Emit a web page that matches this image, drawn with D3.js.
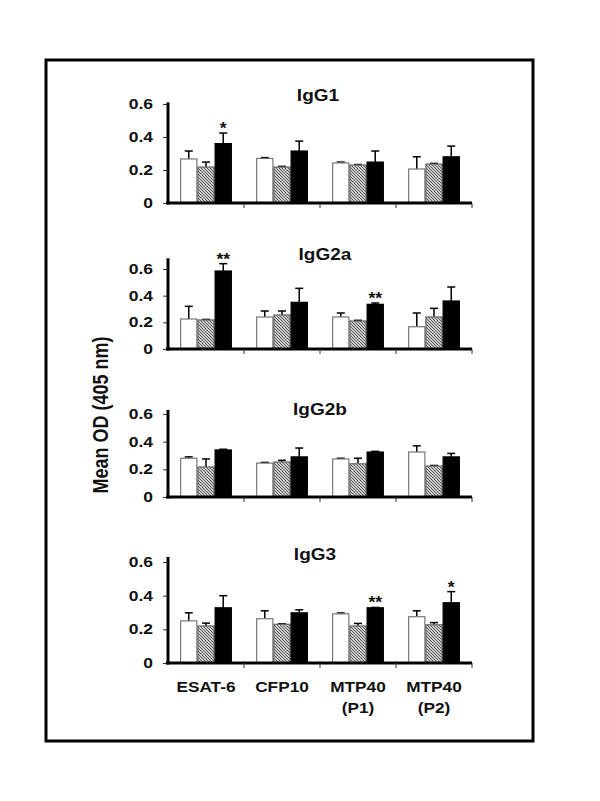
<!DOCTYPE html>
<html>
<head>
<meta charset="utf-8">
<script src="https://cdn.jsdelivr.net/npm/d3@7"></script>
<style>
body { margin: 0; background: #fff; }
text { font-family: "Liberation Sans", Arial, sans-serif; font-weight: bold; fill: #111; }
</style>
</head>
<body>
<svg width="600" height="801"></svg>
<script>
// antigens on the x axis (second line in brackets)
var antigens = ["ESAT-6", "CFP10", "MTP40", "MTP40"];
var antigenSub = ["", "", "(P1)", "(P2)"];
var isotypes = ["IgG1", "IgG2a", "IgG2b", "IgG3"];
var groups = ["open", "hatched", "solid"];
var yTicks = [0, 0.2, 0.4, 0.6];

// mean OD, one row per isotype, one array per bar group
var openMean    = [[0.267, 0.270, 0.243, 0.206], [0.225, 0.240, 0.240, 0.167], [0.280, 0.245, 0.275, 0.325], [0.250, 0.263, 0.292, 0.275]];
var hatchedMean = [[0.218, 0.218, 0.230, 0.236], [0.218, 0.255, 0.210, 0.240], [0.217, 0.253, 0.240, 0.224], [0.220, 0.230, 0.220, 0.227]];
var solidMean   = [[0.360, 0.315, 0.248, 0.280], [0.585, 0.350, 0.335, 0.360], [0.340, 0.290, 0.325, 0.290], [0.328, 0.298, 0.328, 0.358]];
// error (upper bar only)
var openErr    = [[0.048, 0.005, 0.005, 0.074], [0.095, 0.045, 0.030, 0.103], [0.010, 0.005, 0.005, 0.045], [0.048, 0.047, 0.005, 0.035]];
var hatchedErr = [[0.030, 0.004, 0.003, 0.004], [0.004, 0.030, 0.005, 0.065], [0.058, 0.012, 0.040, 0.004], [0.017, 0.003, 0.015, 0.013]];
var solidErr   = [[0.064, 0.060, 0.067, 0.065], [0.055, 0.105, 0.010, 0.105], [0.005, 0.064, 0.005, 0.025], [0.072, 0.018, 0.002, 0.066]];
// significance marks: [isotype, antigen, label] (on the solid bar)
var stars = [[0, 0, "*"], [1, 0, "**"], [1, 2, "**"], [3, 2, "**"], [3, 3, "*"]];

var means = [openMean, hatchedMean, solidMean];
var errs = [openErr, hatchedErr, solidErr];

// panel placement: zero line, 0.6 line, axis top value, title
var panelLayout = [
  {y0: 203, y6: 104, top: 0.61, tx: 318, ty: 101},
  {y0: 349, y6: 269, top: 0.68, tx: 325, ty: 260},
  {y0: 497, y6: 414, top: 0.63, tx: 320, ty: 415},
  {y0: 663, y6: 562, top: 0.63, tx: 315, ty: 560}
];

var svg = d3.select("svg");

var defs = svg.append("defs");
var pat = defs.append("pattern")
    .attr("id", "hatch")
    .attr("patternUnits", "userSpaceOnUse")
    .attr("width", 3).attr("height", 3);
pat.append("rect").attr("width", 3).attr("height", 3).attr("fill", "#c8c8c8");
pat.append("path").attr("d", "M-1,-1 L4,4 M-1,2 L1,4 M2,-1 L4,1")
    .attr("stroke", "#555").attr("stroke-width", 0.9);

var fills = {open: "#fff", hatched: "url(#hatch)", solid: "#000"};
var strokes = {open: "#777", hatched: "#666", solid: "#000"};

// frame
svg.append("rect")
    .attr("x", 46).attr("y", 60).attr("width", 487).attr("height", 681)
    .attr("fill", "none").attr("stroke", "#000").attr("stroke-width", 3);

var x = d3.scaleBand().domain(d3.range(antigens.length)).range([168, 472])
    .paddingInner(0.32).paddingOuter(0.16);
var xs = d3.scaleBand().domain(groups).range([0, x.bandwidth()]);

function squeeze(sel, px, py, sx) {
  sel.attr("transform", "translate(" + px + "," + py + ") scale(" + sx + ",1)");
}

isotypes.forEach(function(iso, p) {
  var L = panelLayout[p];
  var y = d3.scaleLinear().domain([0, 0.6]).range([L.y0, L.y6]);
  var g = svg.append("g");

  // bars
  groups.forEach(function(grp, s) {
    var gg = g.append("g");
    var rows = means[s][p].map(function(v, i) { return {i: i, v: v, e: errs[s][p][i]}; });
    // error bars
    gg.selectAll("line.err").data(rows).enter().append("line")
        .attr("x1", function(d) { return x(d.i) + xs(grp) + xs.bandwidth() / 2; })
        .attr("x2", function(d) { return x(d.i) + xs(grp) + xs.bandwidth() / 2; })
        .attr("y1", function(d) { return y(d.v); })
        .attr("y2", function(d) { return y(d.v + d.e); })
        .attr("stroke", "#000").attr("stroke-width", 1.5);
    gg.selectAll("line.cap").data(rows).enter().append("line")
        .attr("x1", function(d) { return x(d.i) + xs(grp) + xs.bandwidth() / 2 - 4; })
        .attr("x2", function(d) { return x(d.i) + xs(grp) + xs.bandwidth() / 2 + 4; })
        .attr("y1", function(d) { return y(d.v + d.e); })
        .attr("y2", function(d) { return y(d.v + d.e); })
        .attr("stroke", "#000").attr("stroke-width", 1.5);
    gg.selectAll("rect").data(rows).enter().append("rect")
        .attr("x", function(d) { return x(d.i) + xs(grp) + 0.5; })
        .attr("width", xs.bandwidth() - 1)
        .attr("y", function(d) { return y(d.v); })
        .attr("height", function(d) { return y(0) - y(d.v); })
        .attr("fill", fills[grp]).attr("stroke", strokes[grp]).attr("stroke-width", 1.2);
  });

  // y axis
  var ax = g.append("g").attr("transform", "translate(168,0)")
      .call(d3.axisLeft(y).tickValues(yTicks).tickSize(5).tickPadding(7)
        .tickFormat(function(d) { return d === 0 ? "0" : d3.format(".1f")(d); }));
  ax.select(".domain").remove();
  ax.selectAll(".tick line").attr("stroke", "#333");
  ax.selectAll(".tick text").attr("font-size", 14).attr("fill", "#111")
      .attr("font-family", "Liberation Sans, Arial, sans-serif")
      .attr("transform", "scale(1.25,1)");
  g.append("line").attr("x1", 168).attr("x2", 168)
      .attr("y1", y(0) + 1.5).attr("y2", y(L.top))
      .attr("stroke", "#000").attr("stroke-width", 3);

  // x axis
  g.append("line").attr("x1", 166).attr("x2", 472)
      .attr("y1", y(0)).attr("y2", y(0))
      .attr("stroke", "#000").attr("stroke-width", 3);
  var bounds = d3.range(1, antigens.length + 1).map(function(i) {
    return i < antigens.length ? x(i) - x.step() * x.paddingInner() / 2 : 472;
  });
  g.selectAll("line.xt").data(bounds).enter().append("line")
      .attr("x1", function(d) { return d; }).attr("x2", function(d) { return d; })
      .attr("y1", y(0)).attr("y2", y(0) + 5)
      .attr("stroke", "#333").attr("stroke-width", 1);

  // title
  g.append("text").text(iso).attr("font-size", 17).attr("text-anchor", "middle")
      .call(squeeze, L.tx, L.ty, 1.12);

  // significance
  stars.filter(function(s) { return s[0] === p; }).forEach(function(s) {
    var i = s[1];
    g.append("text").text(s[2]).attr("font-size", 16).attr("text-anchor", "middle")
        .call(squeeze, x(i) + xs("solid") + xs.bandwidth() / 2, y(solidMean[p][i] + solidErr[p][i]) + 1, 1.1);
  });
});

// antigen labels
antigens.forEach(function(a, i) {
  var cx = x(i) + x.bandwidth() / 2;
  svg.append("text").text(a).attr("font-size", 15).attr("text-anchor", "middle")
      .call(squeeze, cx, 692, 1.15);
  if (antigenSub[i]) {
    svg.append("text").text(antigenSub[i]).attr("font-size", 15).attr("text-anchor", "middle")
        .call(squeeze, cx, 713, 1.15);
  }
});

// y label
svg.append("text").text("Mean OD (405 nm)")
    .attr("font-size", 18).attr("text-anchor", "middle")
    .attr("transform", "translate(108,415) rotate(-90) scale(1,1.2)");
</script>
</body>
</html>
